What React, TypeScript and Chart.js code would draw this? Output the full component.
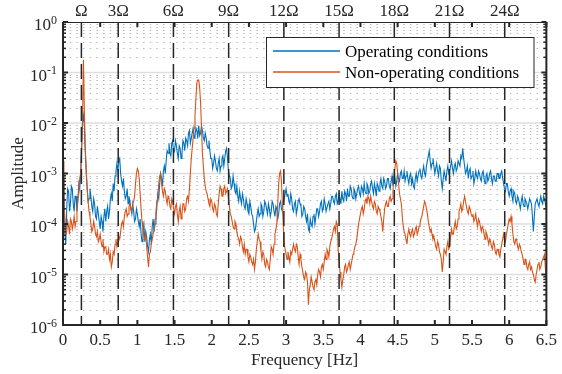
import React, { useEffect, useRef } from "react";
import { Chart, registerables } from "chart.js";

Chart.register(...registerables);

// ---- data -------------------------------------------------------------
// Frequency sampling step (Hz); samples run from 0 to 6.5 Hz
const FREQ_STEP = 0.0125;

// log10(amplitude), operating conditions (blue); one row = 0.25 Hz
const operatingLog10 = [
  -3.3, -3.1, -4.2, -4.4, -3.7, -3.3, -3.35, -3.75, -3.6, -3.25, -3.3, -3.6, -3.75, -3.45, -3.45, -3.75, -3.55, -3.2, -3.3, -3.0,
  -2.45, -2.0, -1.85, -2.05, -2.6, -3.0, -3.3, -3.55, -3.5, -3.3, -3.45, -3.65, -3.75, -3.5, -3.6, -3.85, -3.9, -3.65, -3.8, -3.95,
  -4.1, -3.85, -3.95, -4.15, -3.85, -3.7, -3.95, -3.75, -3.65, -3.9, -3.75, -3.5, -3.4, -3.55, -3.2, -3.35, -3.05, -2.95, -2.8, -2.95,
  -2.75, -2.7, -3.0, -3.15, -3.25, -3.1, -3.35, -3.5, -3.45, -3.3, -3.6, -3.45, -3.55, -3.7, -3.8, -3.6, -3.75, -3.95, -3.9, -3.7,
  -3.8, -3.95, -4.05, -3.9, -4.2, -4.35, -4.1, -4.0, -4.35, -4.15, -4.25, -4.45, -4.55, -4.3, -4.2, -4.4, -4.05, -3.9, -4.15, -4.0,
  -3.85, -3.65, -3.4, -3.5, -3.2, -3.0, -3.1, -3.25, -2.95, -2.85, -3.0, -2.75, -2.55, -2.6, -2.4, -2.6, -2.65, -2.4, -2.35, -2.6,
  -2.55, -2.35, -2.45, -2.6, -2.7, -2.45, -2.5, -2.7, -2.6, -2.35, -2.4, -2.55, -2.3, -2.35, -2.45, -2.2, -2.15, -2.4, -2.3, -2.2,
  -2.1, -2.3, -2.25, -2.1, -2.15, -2.3, -2.05, -2.25, -2.2, -2.05, -2.15, -2.3, -2.35, -2.2, -2.3, -2.45, -2.5, -2.35, -2.55, -2.7,
  -2.7, -2.9, -2.8, -2.65, -2.75, -2.9, -2.95, -2.8, -2.7, -2.95, -2.85, -2.7, -2.65, -2.85, -2.7, -2.55, -2.5, -2.7, -2.95, -3.05,
  -3.1, -3.3, -3.25, -3.05, -3.2, -3.35, -3.4, -3.25, -3.45, -3.55, -3.35, -3.5, -3.6, -3.4, -3.5, -3.65, -3.7, -3.5, -3.6, -3.75,
  -3.8, -3.55, -3.65, -3.8, -3.85, -4.0, -4.15, -4.1, -3.95, -3.8, -3.7, -3.85, -3.8, -3.6, -3.65, -3.85, -3.75, -3.55, -3.6, -3.7,
  -3.8, -3.6, -3.7, -3.85, -3.75, -3.55, -3.6, -3.75, -3.85, -3.65, -3.7, -3.9, -3.8, -3.6, -3.55, -3.7, -3.75, -3.55, -3.5, -3.4,
  -3.3, -3.45, -3.4, -3.55, -3.6, -3.4, -3.5, -3.7, -3.75, -3.6, -3.55, -3.8, -3.7, -3.55, -3.5, -3.6, -3.65, -3.85, -3.8, -3.65,
  -3.7, -3.85, -3.95, -3.8, -4.1, -4.15, -3.9, -4.0, -4.05, -3.85, -3.8, -4.0, -3.85, -3.7, -3.7, -3.85, -3.75, -3.6, -3.55, -3.75,
  -3.7, -3.5, -3.6, -3.75, -3.75, -3.6, -3.55, -3.7, -3.6, -3.45, -3.45, -3.55, -3.6, -3.45, -3.4, -3.6, -3.55, -3.4, -3.5, -3.6,
  -3.35, -3.5, -3.55, -3.35, -3.4, -3.55, -3.3, -3.45, -3.45, -3.25, -3.3, -3.45, -3.5, -3.3, -3.35, -3.5, -3.4, -3.3, -3.25, -3.4,
  -3.45, -3.25, -3.3, -3.4, -3.2, -3.35, -3.4, -3.2, -3.25, -3.4, -3.35, -3.2, -3.15, -3.3, -3.4, -3.2, -3.3, -3.45, -3.2, -3.25,
  -3.35, -3.2, -3.1, -3.25, -3.3, -3.1, -3.15, -3.3, -3.25, -3.1, -3.1, -3.25, -3.3, -3.15, -3.05, -3.25, -3.15, -3.05, -3.25, -3.15,
  -3.0, -3.1, -3.15, -3.0, -2.95, -3.1, -3.1, -2.95, -3.15, -3.05, -2.95, -3.1, -3.2, -3.05, -3.0, -3.2, -3.1, -3.25, -3.3, -3.1,
  -3.0, -3.15, -3.05, -2.95, -2.9, -3.05, -3.1, -2.95, -2.85, -3.0, -3.05, -2.85, -2.75, -2.65, -2.55, -2.75, -2.9, -2.8, -2.7, -2.85,
  -3.0, -2.9, -2.8, -2.95, -3.05, -2.85, -2.9, -3.15, -3.3, -3.1, -2.95, -3.05, -3.15, -2.95, -2.85, -3.0, -2.95, -2.85, -2.75, -2.9,
  -3.0, -2.85, -2.8, -2.95, -2.9, -2.75, -2.75, -2.85, -2.65, -2.7, -2.5, -2.7, -2.85, -3.0, -2.95, -2.85, -3.1, -2.95, -2.9, -3.1,
  -3.05, -2.95, -3.2, -3.1, -2.95, -3.05, -3.1, -2.95, -3.0, -3.1, -3.15, -3.0, -2.95, -3.1, -3.2, -3.05, -3.0, -3.15, -3.1, -3.0,
  -2.95, -3.1, -3.2, -3.05, -3.05, -3.15, -3.15, -3.0, -3.0, -3.1, -3.1, -3.0, -2.95, -3.1, -3.2, -3.3, -3.35, -3.2, -3.2, -3.35,
  -3.45, -3.35, -3.3, -3.45, -3.55, -3.35, -3.4, -3.55, -3.6, -3.45, -3.5, -3.6, -3.7, -3.55, -3.45, -3.6, -3.65, -3.5, -3.55, -3.6,
  -3.7, -3.6, -3.5, -3.55, -3.6, -3.85, -4.15, -3.85, -3.6, -3.55, -3.5, -3.6, -3.65, -3.55, -3.45, -3.55, -3.6, -3.45, -3.5, -3.6,
  -3.7,
];

// log10(amplitude), non-operating conditions (orange); one row = 0.25 Hz
const nonOperatingLog10 = [
  -2.75, -3.6, -3.9, -4.2, -4.15, -3.95, -4.05, -4.2, -3.9, -3.95, -4.1, -4.0, -3.85, -4.05, -3.95, -3.7, -3.5, -3.4, -3.1, -3.0,
  -2.6, -1.9, -0.75, -1.8, -2.5, -2.9, -3.3, -3.55, -3.75, -3.85, -4.0, -4.15, -4.1, -3.95, -4.05, -4.2, -4.25, -4.15, -4.35, -4.3,
  -4.2, -4.35, -4.45, -4.3, -4.55, -4.45, -4.45, -4.6, -4.6, -4.5, -4.7, -4.6, -4.85, -4.75, -4.55, -4.6, -4.4, -4.3, -4.45, -4.35,
  -4.25, -4.3, -4.15, -4.0, -3.95, -4.05, -3.85, -3.75, -3.7, -3.85, -3.8, -3.65, -3.6, -3.7, -3.75, -3.6, -3.55, -3.45, -3.2, -3.0,
  -2.9, -2.95, -3.1, -3.4, -3.7, -3.95, -4.1, -4.25, -4.3, -4.2, -4.45, -4.65, -4.85, -4.6, -4.55, -4.4, -4.3, -4.2, -4.1, -3.9,
  -3.75, -3.55, -3.5, -3.2, -3.05, -3.0, -3.2, -3.35, -3.45, -3.3, -3.35, -3.5, -3.6, -3.45, -3.5, -3.65, -3.7, -3.5, -3.55, -3.7,
  -3.8, -3.65, -3.6, -3.8, -3.95, -3.75, -3.65, -3.9, -3.8, -3.6, -3.6, -3.75, -3.7, -3.5, -3.45, -3.55, -3.3, -3.0, -2.7, -2.5,
  -2.3, -2.1, -1.85, -1.5, -1.2, -1.15, -1.15, -1.3, -1.6, -2.1, -2.6, -2.85, -3.1, -3.25, -3.35, -3.4, -3.5, -3.6, -3.65, -3.5,
  -3.55, -3.7, -3.75, -3.6, -3.65, -3.8, -3.85, -3.6, -3.4, -3.25, -3.3, -3.45, -3.45, -3.3, -3.25, -3.4, -3.35, -3.3, -3.5, -3.65,
  -3.8, -3.85, -3.95, -4.05, -4.1, -3.95, -4.0, -4.15, -4.25, -4.3, -4.4, -4.25, -4.3, -4.45, -4.55, -4.4, -4.6, -4.5, -4.5, -4.65,
  -4.75, -4.6, -4.65, -4.75, -4.8, -4.7, -4.9, -4.75, -4.5, -4.35, -4.2, -4.3, -4.35, -4.55, -4.7, -4.55, -4.6, -4.8, -4.85, -4.7,
  -4.75, -4.85, -4.9, -4.7, -4.45, -4.5, -4.6, -4.4, -4.2, -4.1, -4.0, -3.6, -3.2, -3.0, -2.95, -3.15, -3.6, -4.05, -4.4, -4.5,
  -4.6, -4.7, -4.55, -4.65, -4.75, -4.55, -4.6, -4.5, -4.4, -4.5, -4.55, -4.4, -4.45, -4.65, -4.8, -4.6, -4.7, -4.85, -4.95, -5.05,
  -5.1, -4.95, -5.0, -5.15, -5.6, -5.3, -5.2, -5.05, -5.15, -5.25, -5.3, -5.15, -5.1, -5.2, -5.0, -4.9, -4.95, -5.05, -4.85, -4.8,
  -4.9, -4.75, -4.6, -4.7, -4.5, -4.55, -4.65, -4.45, -4.35, -4.3, -4.2, -4.1, -4.05, -4.15, -3.95, -4.0, -4.5, -4.7, -4.95, -5.1,
  -5.25, -5.1, -5.0, -4.85, -4.8, -4.95, -4.9, -4.8, -4.75, -4.9, -4.8, -4.7, -4.6, -4.55, -4.45, -4.4, -4.3, -4.15, -4.0, -3.9,
  -3.8, -3.7, -3.65, -3.8, -3.7, -3.55, -3.5, -3.6, -3.45, -3.5, -3.6, -3.45, -3.55, -3.65, -3.7, -3.55, -3.6, -3.75, -3.8, -3.65,
  -3.7, -3.75, -3.85, -3.95, -4.15, -3.9, -3.7, -3.6, -3.55, -3.65, -3.65, -3.5, -3.45, -3.55, -3.5, -3.35, -3.1, -2.9, -2.75, -2.8,
  -3.0, -3.2, -3.4, -3.5, -3.6, -3.85, -4.05, -4.15, -4.2, -4.3, -4.4, -4.2, -4.1, -4.2, -4.25, -4.15, -4.1, -4.25, -4.2, -4.1,
  -4.05, -4.2, -4.15, -4.05, -4.0, -3.9, -3.85, -3.75, -3.65, -3.55, -3.6, -3.7, -3.8, -3.95, -4.05, -4.15, -4.1, -4.2, -4.3, -4.25,
  -4.35, -4.45, -4.5, -4.35, -4.4, -4.55, -4.6, -4.7, -4.95, -4.75, -4.5, -4.55, -4.6, -4.45, -4.35, -4.5, -4.45, -4.25, -4.1, -4.2,
  -4.2, -4.05, -3.95, -4.1, -4.05, -3.9, -3.75, -3.7, -3.6, -3.75, -3.7, -3.55, -3.45, -3.55, -3.65, -3.75, -3.8, -3.65, -3.7, -3.8,
  -3.85, -3.8, -3.95, -3.9, -3.8, -3.95, -4.05, -3.9, -3.95, -4.05, -4.15, -4.05, -4.1, -4.2, -4.3, -4.15, -4.2, -4.3, -4.4, -4.3,
  -4.35, -4.45, -4.5, -4.35, -4.4, -4.55, -4.6, -4.5, -4.5, -4.6, -4.65, -4.5, -4.4, -4.3, -4.2, -4.3, -4.35, -4.2, -4.1, -4.0,
  -3.9, -3.95, -3.85, -4.0, -4.2, -4.35, -4.4, -4.3, -4.3, -4.45, -4.5, -4.4, -4.45, -4.55, -4.6, -4.7, -4.8, -4.7, -4.7, -4.85,
  -4.9, -4.8, -4.75, -4.9, -4.85, -4.95, -5.0, -5.1, -5.15, -5.0, -4.9, -4.8, -4.75, -4.9, -4.85, -4.75, -4.7, -4.65, -4.6, -4.9,
  -5.1,
];

const SERIES_LABELS = ["Operating conditions", "Non-operating conditions"];
const SERIES_COLORS = ["#0072BD", "#D95319"];

// Rotation frequency Ω (Hz) and the harmonics marked with dashed lines
const OMEGA = 0.2475;
const OMEGA_MULTIPLES = [1, 3, 6, 9, 12, 15, 18, 21, 24];
const OMEGA_LABELS = ["Ω", "3Ω", "6Ω", "9Ω", "12Ω", "15Ω", "18Ω", "21Ω", "24Ω"];

const X_MIN = 0;
const X_MAX = 6.5;
const X_STEP = 0.5;
const Y_MIN_EXP = -6;
const Y_MAX_EXP = 0;

const FONT = "'Liberation Serif', 'Times New Roman', serif";
const AXIS_COLOR = "#262626";

// ---- chart ------------------------------------------------------------
const toPoints = (logs: number[]) =>
  logs.map((v, i) => ({ x: +(i * FREQ_STEP).toFixed(4), y: Math.pow(10, v) }));

function line(ctx: CanvasRenderingContext2D, x1: number, y1: number, x2: number, y2: number) {
  ctx.beginPath();
  ctx.moveTo(x1, y1);
  ctx.lineTo(x2, y2);
  ctx.stroke();
}

const framePlugin = {
  id: "matlabFrame",
  beforeDatasetsDraw(chart: any) {
    const { ctx, chartArea: a, scales } = chart;
    const y = scales.y;
    ctx.save();
    // minor dotted grid (2..9 x decade)
    ctx.strokeStyle = "#b9b9b9";
    ctx.lineWidth = 1;
    ctx.setLineDash([1.5, 5.17]);
    for (let e = Y_MIN_EXP; e < Y_MAX_EXP; e++) {
      for (let k = 2; k <= 9; k++) {
        const py = Math.round(y.getPixelForValue(k * Math.pow(10, e))) + 0.5;
        line(ctx, a.left, py, a.right, py);
      }
    }
    // major decade grid
    ctx.setLineDash([]);
    ctx.strokeStyle = "#dedede";
    ctx.lineWidth = 1.5;
    for (let e = Y_MIN_EXP + 1; e < Y_MAX_EXP; e++) {
      const py = y.getPixelForValue(Math.pow(10, e));
      line(ctx, a.left, py, a.right, py);
    }
    ctx.restore();
  },
  afterDatasetsDraw(chart: any) {
    const { ctx, chartArea: a, scales } = chart;
    const x = scales.x;
    const y = scales.y;
    ctx.save();
    // dashed harmonic lines
    ctx.strokeStyle = "#262626";
    ctx.lineWidth = 1.5;
    ctx.setLineDash([15, 6]);
    for (const k of OMEGA_MULTIPLES) {
      const px = x.getPixelForValue(k * OMEGA);
      line(ctx, px, a.top, px, a.bottom);
    }
    ctx.setLineDash([]);

    // frame
    ctx.strokeStyle = AXIS_COLOR;
    ctx.lineWidth = 1;
    line(ctx, a.left, a.top + 0.5, a.right, a.top + 0.5);
    ctx.lineWidth = 2;
    line(ctx, a.left, a.bottom, a.right, a.bottom);
    line(ctx, a.left, a.top, a.left, a.bottom + 1);
    line(ctx, a.right, a.top, a.right, a.bottom + 1);

    // x ticks (bottom and top), inward
    for (let v = X_MIN; v <= X_MAX + 1e-9; v += X_STEP) {
      const px = x.getPixelForValue(v);
      line(ctx, px, a.bottom, px, a.bottom - 5);
      line(ctx, px, a.top, px, a.top + 5);
    }
    // y ticks, left and right, inward
    for (let e = Y_MIN_EXP; e <= Y_MAX_EXP; e++) {
      const py = y.getPixelForValue(Math.pow(10, e));
      ctx.lineWidth = 2;
      line(ctx, a.left, py, a.left + 5, py);
      line(ctx, a.right, py, a.right - 5, py);
      if (e < Y_MAX_EXP) {
        ctx.lineWidth = 1.5;
        for (let k = 2; k <= 9; k++) {
          const pm = y.getPixelForValue(k * Math.pow(10, e));
          line(ctx, a.left, pm, a.left + 3, pm);
          line(ctx, a.right, pm, a.right - 3, pm);
        }
      }
    }

    // y tick labels 10^n
    ctx.fillStyle = AXIS_COLOR;
    ctx.textBaseline = "alphabetic";
    ctx.textAlign = "left";
    for (let e = Y_MIN_EXP; e <= Y_MAX_EXP; e++) {
      const py = y.getPixelForValue(Math.pow(10, e));
      const expText = String(e);
      ctx.font = `12px ${FONT}`;
      const ew = ctx.measureText(expText).width;
      ctx.font = `17px ${FONT}`;
      const bw = ctx.measureText("10").width;
      const right = a.left - 6;
      ctx.fillText("10", right - ew - bw, py + 8);
      ctx.font = `12px ${FONT}`;
      ctx.fillText(expText, right - ew, py + 1.8);
    }

    // legend
    const lx = 266.5, ly = 37.5, lw = 267.5, lh = 50;
    ctx.fillStyle = "#ffffff";
    ctx.fillRect(lx, ly, lw, lh);
    ctx.strokeStyle = AXIS_COLOR;
    ctx.lineWidth = 1;
    ctx.strokeRect(lx, ly, lw, lh);
    ctx.font = `17px ${FONT}`;
    const rows = [51, 72];
    SERIES_LABELS.forEach((label, i) => {
      ctx.strokeStyle = SERIES_COLORS[i];
      ctx.lineWidth = 1.3;
      line(ctx, 273, rows[i], 340, rows[i]);
      ctx.fillStyle = "#000000";
      ctx.fillText(label, 345, rows[i] + 5.7);
    });
    ctx.restore();
  },
};

export default function App() {
  const canvasRef = useRef<HTMLCanvasElement | null>(null);

  useEffect(() => {
    const canvas = canvasRef.current;
    if (!canvas) return;
    const chart = new Chart(canvas, {
      type: "line",
      data: {
        datasets: [
          {
            label: SERIES_LABELS[1],
            data: toPoints(nonOperatingLog10),
            borderColor: SERIES_COLORS[1],
            borderWidth: 1.1,
            pointRadius: 0,
            tension: 0,
            fill: false,
          },
          {
            label: SERIES_LABELS[0],
            data: toPoints(operatingLog10),
            borderColor: SERIES_COLORS[0],
            borderWidth: 1.1,
            pointRadius: 0,
            tension: 0,
            fill: false,
          },
        ],
      },
      options: {
        responsive: false,
        animation: false,
        devicePixelRatio: 1,
        parsing: false as any,
        layout: { padding: { left: 0, right: 11, top: 0, bottom: 0 } },
        plugins: {
          legend: { display: false },
          tooltip: { enabled: false },
        },
        scales: {
          x: {
            type: "linear",
            position: "bottom",
            min: X_MIN,
            max: X_MAX,
            grid: { display: false, drawTicks: false },
            border: { display: false },
            ticks: {
              stepSize: X_STEP,
              autoSkip: false,
              maxRotation: 0,
              padding: 5,
              color: AXIS_COLOR,
              font: { family: FONT, size: 17 },
              callback: (v: any) => String(Math.round(Number(v) * 10) / 10),
            },
            title: {
              display: true,
              text: "Frequency [Hz]",
              color: AXIS_COLOR,
              font: { family: FONT, size: 17 },
              padding: { top: 0, bottom: 3 },
            },
            afterFit: (s: any) => {
              s.height = 49;
            },
          },
          xTop: {
            type: "linear",
            position: "top",
            min: X_MIN,
            max: X_MAX,
            grid: { display: false, drawTicks: false },
            border: { display: false },
            afterBuildTicks: (s: any) => {
              s.ticks = OMEGA_MULTIPLES.map((k) => ({ value: k * OMEGA }));
            },
            ticks: {
              autoSkip: false,
              maxRotation: 0,
              padding: 0,
              color: AXIS_COLOR,
              font: { family: FONT, size: 17 },
              callback: (_v: any, i: number) => OMEGA_LABELS[i],
            },
            afterFit: (s: any) => {
              s.height = 22;
            },
          },
          y: {
            type: "logarithmic",
            min: Math.pow(10, Y_MIN_EXP),
            max: Math.pow(10, Y_MAX_EXP),
            grid: { display: false, drawTicks: false },
            border: { display: false },
            ticks: { display: false },
            title: {
              display: true,
              text: "Amplitude",
              color: AXIS_COLOR,
              font: { family: FONT, size: 17 },
              padding: { top: 8, bottom: 0 },
            },
            afterFit: (s: any) => {
              s.width = 63;
            },
          },
        },
      } as any,
      plugins: [framePlugin],
    });
    return () => chart.destroy();
  }, []);

  return (
    <div style={{ width: 562, height: 374 }}>
      <style>{`body{margin:0}`}</style>
      <canvas ref={canvasRef} width={562} height={374} style={{ display: "block" }} />
    </div>
  );
}
